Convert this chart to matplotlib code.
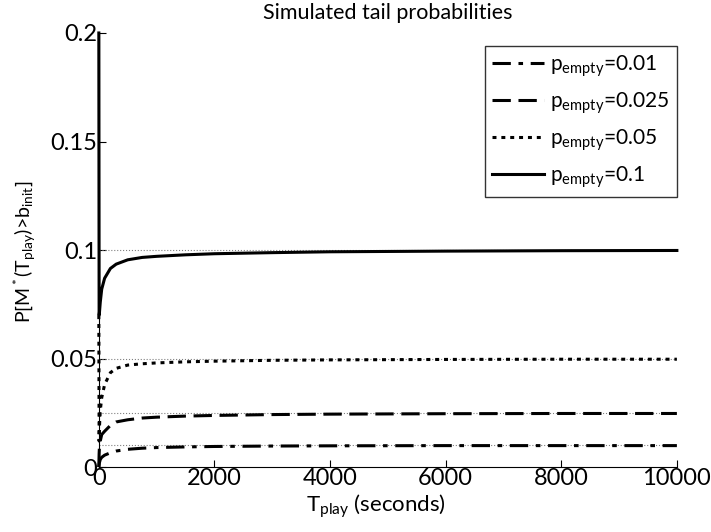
import numpy as np
import matplotlib.pyplot as plt

plt.rcParams['font.family'] = ['Lato', 'DejaVu Sans']
plt.rcParams['mathtext.fontset'] = 'custom'
plt.rcParams['mathtext.rm'] = 'Lato'
plt.rcParams['mathtext.it'] = 'Lato'

# temps de lecture (secondes) et probabilites
t_play = [0, 5, 10, 25, 50, 100, 200, 300, 500, 750, 1000, 1500, 2000, 3000, 4000, 6000, 8000, 10000]
p_010 = [0.2, 0.070, 0.071, 0.076, 0.082, 0.087, 0.0915, 0.0935, 0.0955, 0.0966, 0.0971, 0.0978, 0.0983, 0.0988, 0.0992, 0.0995, 0.0997, 0.0998]
p_005 = [0.070, 0.012, 0.018, 0.026, 0.032, 0.038, 0.0435, 0.0455, 0.047, 0.0476, 0.048, 0.0485, 0.0488, 0.0492, 0.0494, 0.0496, 0.0497, 0.0497]
p_0025 = [0.0, 0.006, 0.009, 0.012, 0.015, 0.0165, 0.0192, 0.0208, 0.0218, 0.0226, 0.023, 0.0235, 0.0238, 0.0242, 0.0244, 0.0246, 0.0247, 0.0247]
p_001 = [0.0, 0.001, 0.002, 0.0035, 0.0045, 0.0055, 0.0066, 0.0074, 0.0082, 0.0087, 0.009, 0.0093, 0.0095, 0.0097, 0.0098, 0.0099, 0.0099, 0.0099]
levels = [0.01, 0.025, 0.05, 0.1]
labels = ['0.01', '0.025', '0.05', '0.1']

fig = plt.figure(figsize=(7.11, 5.32), dpi=100)
ax = fig.add_axes([0.139, 0.122, 0.813, 0.816])

for lv in levels:
    ax.plot([0, 10000], [lv, lv], ':', color='gray', lw=0.8)

lw = 2.2
ax.plot(t_play, p_001, color='black', lw=lw, dashes=(6, 2.5, 1.5, 2.5), label=r'p$_{\mathrm{empty}}$=' + labels[0], clip_on=False, zorder=5)
ax.plot(t_play, p_0025, color='black', lw=lw, dashes=(6, 2.5), label=r'p$_{\mathrm{empty}}$=' + labels[1], clip_on=False, zorder=5)
ax.plot(t_play, p_005, color='black', lw=lw, dashes=(1.3, 1.6), label=r'p$_{\mathrm{empty}}$=' + labels[2], clip_on=False, zorder=5)
ax.plot(t_play, p_010, color='black', lw=lw, label=r'p$_{\mathrm{empty}}$=' + labels[3], clip_on=False, zorder=5)

ax.set_xlim(0, 10000)
ax.set_ylim(0, 0.2)
ax.set_xticks([0, 2000, 4000, 6000, 8000, 10000])
ax.set_yticks([0, 0.05, 0.1, 0.15, 0.2])
ax.set_yticklabels(['0', '0.05', '0.1', '0.15', '0.2'])
ax.tick_params(direction='in', labelsize=17, length=5, pad=1)
ax.spines['top'].set_visible(False)
ax.spines['right'].set_visible(False)

ax.set_xlabel(r'T$_{\mathrm{play}}$ (seconds)', fontsize=16, va='top')
ax.xaxis.set_label_coords(0.479, -0.058)
ax.set_ylabel(r'P[M$^*$(T$_{\mathrm{play}}$)>b$_{\mathrm{init}}$]', fontsize=14, va='center')
ax.yaxis.set_label_coords(-0.128, 0.495)
ax.set_title('Simulated tail probabilities', fontsize=15.5, pad=10)

leg = ax.legend(loc='upper right', fontsize=15, fancybox=False, edgecolor='black',
                handlelength=2.5, handletextpad=0.3, borderpad=0.35, labelspacing=0.55,
                borderaxespad=0, bbox_to_anchor=(1.0, 0.97))
leg.get_frame().set_linewidth(1.0)

plt.savefig('out.png', dpi=100)
